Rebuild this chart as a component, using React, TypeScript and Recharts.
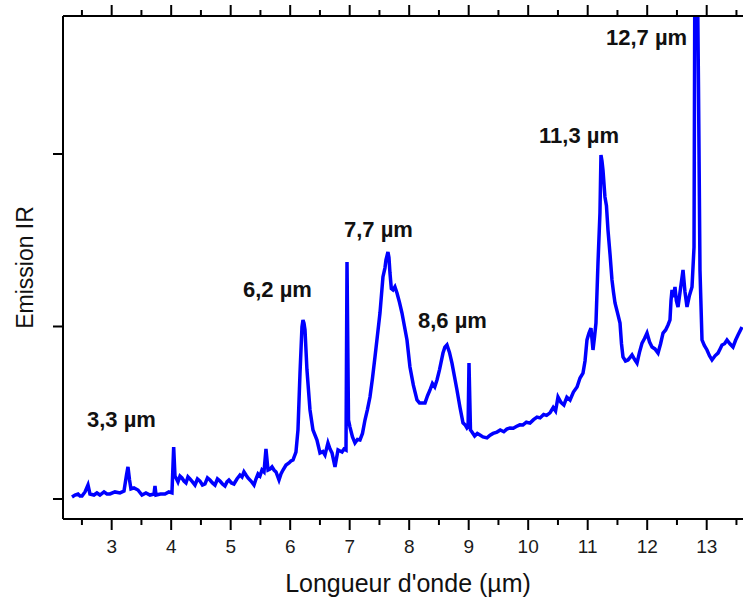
import React from 'react';
import { LineChart, Line, XAxis, YAxis, ReferenceDot } from 'recharts';

const wavelength = [
  2.333, 2.384, 2.434, 2.468, 2.501, 2.552, 2.602, 2.635, 2.702, 2.752,
  2.803, 2.871, 2.92, 2.971, 3.055, 3.139, 3.207, 3.249, 3.274, 3.3,
  3.324, 3.375, 3.442, 3.509, 3.576, 3.644, 3.711, 3.728, 3.745, 3.82,
  3.896, 3.96, 4.013, 4.042, 4.064, 4.09, 4.114, 4.148, 4.181, 4.215,
  4.249, 4.282, 4.316, 4.358, 4.4, 4.442, 4.484, 4.526, 4.568, 4.61,
  4.652, 4.694, 4.736, 4.778, 4.82, 4.862, 4.904, 4.938, 4.971, 5.013,
  5.055, 5.105, 5.156, 5.19, 5.223, 5.257, 5.291, 5.341, 5.392, 5.425,
  5.459, 5.492, 5.526, 5.56, 5.593, 5.627, 5.661, 5.695, 5.728, 5.762,
  5.812, 5.845, 5.879, 5.93, 5.98, 6.013, 6.047, 6.097, 6.131, 6.165,
  6.198, 6.215, 6.232, 6.249, 6.282, 6.333, 6.383, 6.45, 6.501, 6.55,
  6.585, 6.635, 6.67, 6.703, 6.753, 6.804, 6.838, 6.871, 6.905, 6.938,
  6.955, 6.98, 7.005, 7.047, 7.089, 7.131, 7.173, 7.215, 7.257, 7.299,
  7.341, 7.383, 7.425, 7.467, 7.509, 7.559, 7.593, 7.61, 7.643, 7.66,
  7.677, 7.7, 7.728, 7.76, 7.795, 7.837, 7.879, 7.921, 7.963, 8.013,
  8.07, 8.131, 8.173, 8.215, 8.266, 8.31, 8.35, 8.39, 8.43, 8.467,
  8.51, 8.568, 8.6, 8.635, 8.677, 8.719, 8.761, 8.803, 8.854, 8.904,
  8.94, 8.971, 8.99, 9.005, 9.03, 9.055, 9.1, 9.145, 9.189, 9.24,
  9.307, 9.36, 9.41, 9.475, 9.53, 9.59, 9.64, 9.694, 9.75, 9.8,
  9.86, 9.912, 9.97, 10.03, 10.09, 10.148, 10.2, 10.26, 10.31, 10.366,
  10.42, 10.46, 10.501, 10.55, 10.6, 10.65, 10.703, 10.76, 10.821, 10.871,
  10.921, 10.955, 10.988, 11.02, 11.055, 11.089, 11.115, 11.139, 11.173, 11.206,
  11.223, 11.24, 11.257, 11.29, 11.315, 11.341, 11.375, 11.408, 11.433, 11.459,
  11.5, 11.543, 11.568, 11.593, 11.635, 11.677, 11.71, 11.745, 11.787, 11.829,
  11.87, 11.913, 11.955, 11.997, 12.04, 12.081, 12.13, 12.182, 12.225, 12.266,
  12.31, 12.35, 12.383, 12.4, 12.417, 12.44, 12.467, 12.49, 12.518, 12.56,
  12.602, 12.635, 12.669, 12.71, 12.753, 12.787, 12.803, 12.837, 12.862, 12.887,
  12.921, 12.96, 13.005, 13.047, 13.089, 13.14, 13.19, 13.225, 13.257, 13.3,
  13.341, 13.39, 13.442, 13.485, 13.526, 13.593,
];

const emission = [
  0.012, 0.023, 0.029, 0.017, 0.017, 0.041, 0.081, 0.029, 0.023, 0.035,
  0.023, 0.041, 0.029, 0.029, 0.041, 0.035, 0.046, 0.139, 0.186, 0.11,
  0.058, 0.064, 0.052, 0.023, 0.035, 0.023, 0.029, 0.075, 0.023, 0.029,
  0.029, 0.041, 0.035, 0.301, 0.133, 0.116, 0.099, 0.133, 0.122, 0.104,
  0.093, 0.128, 0.116, 0.099, 0.081, 0.116, 0.104, 0.081, 0.087, 0.122,
  0.11, 0.093, 0.081, 0.116, 0.104, 0.087, 0.075, 0.099, 0.11, 0.093,
  0.087, 0.116, 0.139, 0.128, 0.157, 0.139, 0.122, 0.104, 0.081, 0.116,
  0.145, 0.133, 0.168, 0.157, 0.29, 0.168, 0.174, 0.186, 0.168, 0.157,
  0.11, 0.145, 0.168, 0.197, 0.209, 0.22, 0.226, 0.272, 0.4, 0.73,
  0.997, 1.038, 1.02, 0.98, 0.748, 0.516, 0.4, 0.342, 0.267, 0.275,
  0.255, 0.325, 0.29, 0.267, 0.186, 0.284, 0.278, 0.272, 0.29, 0.284,
  1.374, 0.458, 0.417, 0.36, 0.325, 0.345, 0.342, 0.38, 0.458, 0.52,
  0.591, 0.7, 0.823, 0.95, 1.078, 1.287, 1.34, 1.386, 1.432, 1.4,
  1.31, 1.22, 1.212, 1.23, 1.194, 1.14, 1.078, 1.0, 0.922, 0.765,
  0.66, 0.574, 0.557, 0.557, 0.557, 0.6, 0.632, 0.67, 0.65, 0.69,
  0.75, 0.846, 0.88, 0.893, 0.85, 0.788, 0.71, 0.632, 0.53, 0.441,
  0.43, 0.412, 0.42, 0.788, 0.4, 0.388, 0.365, 0.38, 0.371, 0.36,
  0.354, 0.37, 0.38, 0.388, 0.4, 0.39, 0.405, 0.412, 0.41, 0.42,
  0.43, 0.429, 0.445, 0.44, 0.46, 0.475, 0.47, 0.49, 0.485, 0.499,
  0.53, 0.51, 0.591, 0.56, 0.545, 0.59, 0.574, 0.62, 0.649, 0.701,
  0.73, 0.8, 0.922, 0.96, 0.991, 0.864, 0.94, 1.02, 1.368, 1.658,
  1.994, 1.96, 1.907, 1.751, 1.7, 1.559, 1.42, 1.27, 1.2, 1.136,
  1.08, 1.02, 0.9, 0.823, 0.8, 0.806, 0.82, 0.835, 0.81, 0.788,
  0.85, 0.904, 0.93, 0.962, 0.91, 0.881, 0.87, 0.846, 0.9, 0.962,
  0.98, 1.009, 1.038, 1.15, 1.212, 1.17, 1.229, 1.15, 1.113, 1.22,
  1.328, 1.2, 1.113, 1.18, 1.229, 1.461, 3.3, 3.3, 2.388, 1.328,
  0.922, 0.89, 0.864, 0.83, 0.806, 0.83, 0.846, 0.87, 0.893, 0.9,
  0.922, 0.9, 0.881, 0.92, 0.951, 0.997,
];

const xTicks = [2.5, 3, 3.5, 4, 4.5, 5, 5.5, 6, 6.5, 7, 7.5, 8, 8.5, 9, 9.5, 10, 10.5, 11, 11.5, 12, 12.5, 13, 13.5];
const yTicks = [0, 1, 2];

const peakLabels = ['3,3 µm', '6,2 µm', '7,7 µm', '8,6 µm', '11,3 µm', '12,7 µm'];
const peakLabelX = [2.585, 5.207, 6.904, 8.148, 10.182, 11.308];
const peakLabelY = [0.417, 1.171, 1.519, 0.991, 2.064, 2.632];

const data = wavelength.map((x, i) => ({ x, y: emission[i] }));

const FONT = '"Liberation Sans", Arial, Helvetica, sans-serif';

const BottomTick = (props: any) => {
  const { x, y, payload } = props;
  const v = payload.value;
  const major = Number.isInteger(v);
  return (
    <g>
      <line x1={x} x2={x} y1={y} y2={y + (major ? 11 : 6)} stroke="#000" strokeWidth={2} />
      {major && (
        <text x={x} y={y + 34} textAnchor="middle" fontSize={19} fill="#1a1a1a" fontFamily={FONT}>
          {v}
        </text>
      )}
    </g>
  );
};

const TopTick = (props: any) => {
  const { x, y, payload } = props;
  const major = Number.isInteger(payload.value);
  return <line x1={x} x2={x} y1={y} y2={y - (major ? 11 : 6)} stroke="#000" strokeWidth={2} />;
};

const LeftTick = (props: any) => {
  const { x, y } = props;
  return <line x1={x - 10} x2={x} y1={y} y2={y} stroke="#000" strokeWidth={2} />;
};

export default function App() {
  return (
    <div style={{ position: 'absolute', left: 0, top: 0 }}>
      <LineChart width={743} height={603} data={data} margin={{ top: 15, right: 0, bottom: 0, left: 0 }}>
        <XAxis
          xAxisId={0}
          dataKey="x"
          type="number"
          domain={[2.182, 13.61]}
          allowDataOverflow
          ticks={xTicks}
          interval={0}
          height={84}
          tickSize={0}
          tickMargin={0}
          tickLine={false}
          tick={<BottomTick />}
          axisLine={{ stroke: '#000', strokeWidth: 2 }}
          label={(p: any) => {
            const vb = p.viewBox || { x: 63, y: 519, width: 680 };
            return (
              <text x={vb.x + vb.width / 2 + 5} y={vb.y + 73} textAnchor="middle" fontSize={25} fill="#111" fontFamily={FONT}>
                Longueur d'onde (µm)
              </text>
            );
          }}
        />
        <XAxis
          xAxisId="top"
          orientation="top"
          dataKey="x"
          type="number"
          domain={[2.182, 13.61]}
          allowDataOverflow
          ticks={xTicks}
          interval={0}
          height={1}
          tickSize={0}
          tickMargin={0}
          tickLine={false}
          tick={<TopTick />}
          axisLine={{ stroke: '#000', strokeWidth: 2 }}
        />
        <YAxis
          type="number"
          domain={[-0.116, 2.8]}
          allowDataOverflow
          ticks={yTicks}
          interval={0}
          width={63}
          tickSize={0}
          tickMargin={0}
          tickLine={false}
          tick={<LeftTick />}
          axisLine={{ stroke: '#000', strokeWidth: 2 }}
          label={(p: any) => {
            const vb = p.viewBox || { x: 0, y: 16, width: 63, height: 503 };
            const cx = vb.x + 33;
            const cy = vb.y + vb.height / 2;
            return (
              <text x={cx} y={cy} transform={`rotate(-90, ${cx}, ${cy})`} textAnchor="middle" fontSize={23} fill="#111" fontFamily={FONT}>
                Emission IR
              </text>
            );
          }}
        />
        <Line
          xAxisId="top"
          type="linear"
          dataKey="y"
          stroke="none"
          strokeWidth={0}
          dot={false}
          activeDot={false}
          legendType="none"
          isAnimationActive={false}
        />
        <Line
          xAxisId={0}
          type="linear"
          dataKey="y"
          stroke="#0000ff"
          strokeWidth={3.5}
          dot={false}
          activeDot={false}
          isAnimationActive={false}
        />
        {peakLabels.map((t, i) => (
          <ReferenceDot
            key={t}
            x={peakLabelX[i]}
            y={peakLabelY[i]}
            r={0}
            fill="none"
            stroke="none"
            ifOverflow="visible"
            label={(p: any) => (
              <text x={p.viewBox.x} y={p.viewBox.y} fontSize={22} fontWeight="bold" fill="#111" fontFamily={FONT}>
                {t}
              </text>
            )}
          />
        ))}
      </LineChart>
    </div>
  );
}
